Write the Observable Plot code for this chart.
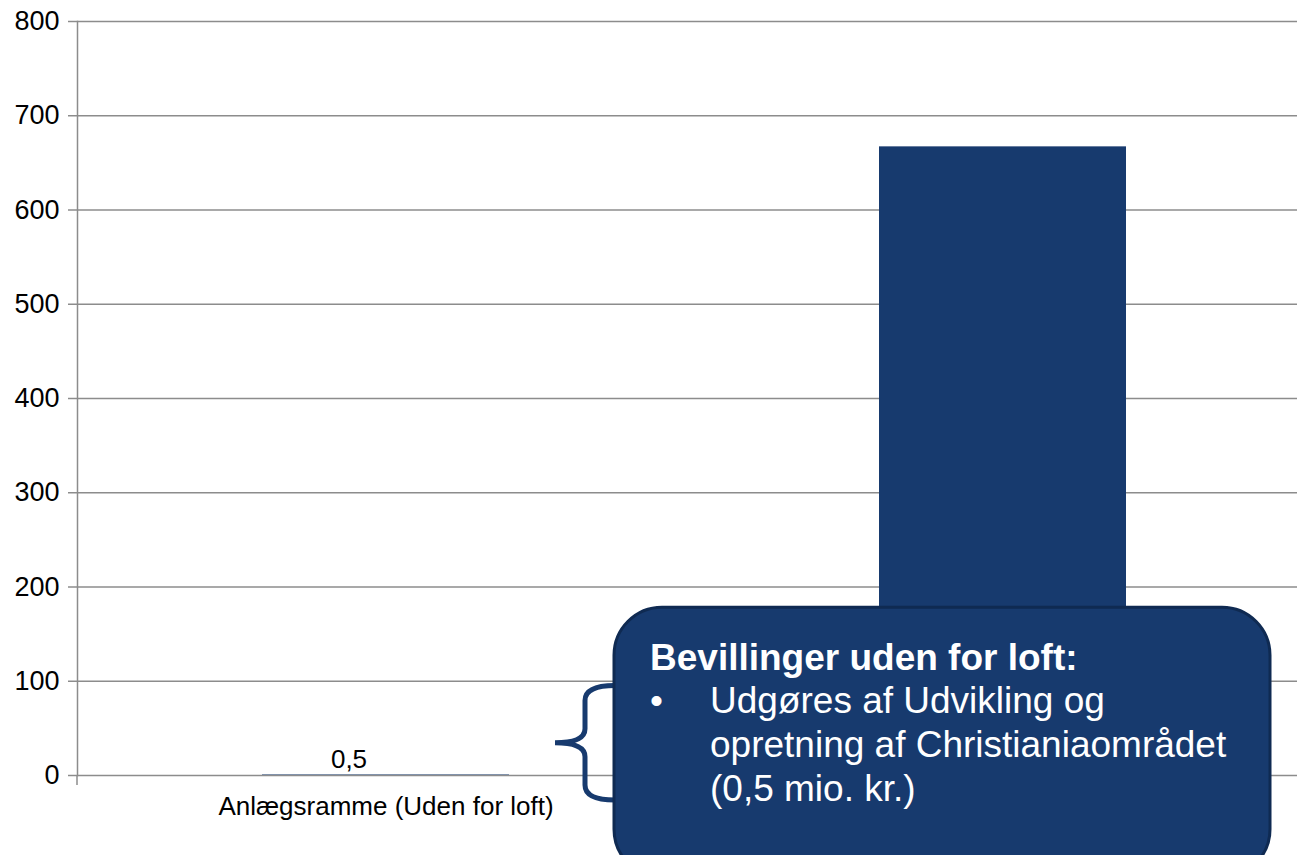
<!DOCTYPE html>
<html>
<head>
<meta charset="utf-8">
<script src="https://cdn.jsdelivr.net/npm/d3@7"></script>
<script src="https://cdn.jsdelivr.net/npm/@observablehq/plot@0.6"></script>
<style>
  html, body { margin: 0; padding: 0; background: #fff; overflow: hidden; }
  #chart svg { display: block; font-family: "Liberation Sans", Arial, sans-serif; }
</style>
</head>
<body>
<div id="chart"></div>
<script>
const categories = ["Anlægsramme (Uden for loft)", "Anlægsramme (Under loft)"];
const values = [0.5, 667];
const valueLabels = ["0,5", ""];
const visibleCategoryLabels = ["Anlægsramme (Uden for loft)"];
const yTicks = [0, 100, 200, 300, 400, 500, 600, 700, 800];
const calloutTitle = "Bevillinger uden for loft:";
const calloutLines = ["Udgøres af Udvikling og", "opretning af Christianiaområdet", "(0,5 mio. kr.)"];

const data = categories.map((c, i) => ({cat: c, value: values[i], label: valueLabels[i]}));

const navy = "#173a6e";
const grid = "#8c8c8c";

const plot = Plot.plot({
  width: 1297,
  height: 855,
  marginLeft: 77,
  marginRight: 0,
  marginTop: 21,
  marginBottom: 80,
  style: {fontFamily: "'Liberation Sans', Arial, sans-serif", fontSize: "26px", color: "#000", background: "#fff"},
  x: {type: "band", domain: categories, range: [77, 1311], paddingInner: 0.6, paddingOuter: 0.3, label: null},
  y: {domain: [0, 800], ticks: yTicks, label: null},
  marks: [
    Plot.gridY(yTicks, {stroke: grid, strokeOpacity: 1, strokeWidth: 1.5}),
    Plot.barY(data, {x: "cat", y: "value", fill: navy}),
    Plot.axisY(yTicks, {tickSize: 9, tickPadding: 9, stroke: grid, strokeWidth: 1.5, fontSize: 27, fill: "#000", label: null, tickFormat: d => String(d)}),
    Plot.axisX(visibleCategoryLabels, {tickSize: 0, tickPadding: 21, fontSize: 26, fill: "#000", label: null}),
    Plot.frame({anchor: "left", stroke: grid, strokeWidth: 1.5}),
    Plot.text(data.filter(d => d.label), {x: "cat", y: "value", text: "label", dy: -15, dx: -37, fontSize: 26, fill: "#000"})
  ]
});

document.getElementById("chart").appendChild(plot);

// Annotation: brace and callout box, positioned from the y scale
const svg = d3.select(plot);
const ys = plot.scale("y");
const yTop = ys.apply(95);     // brace top
const yBot = ys.apply(-26.5);  // brace bottom
const yMid = (yTop + yBot) / 2;
const bx = 585, bl = 555, br = 615;

// small category-boundary tick below the axis at the left edge
svg.append("line").attr("x1", 77).attr("x2", 77).attr("y1", ys.apply(0)).attr("y2", ys.apply(0) + 10)
  .attr("stroke", grid).attr("stroke-width", 1.5);

const ann = svg.append("g").attr("text-anchor", "start");
ann.append("path")
  .attr("d", `M${br},${yTop} Q${bx},${yTop} ${bx},${yTop + 15} L${bx},${yMid - 14} Q${bx},${yMid} ${bl},${yMid} Q${bx},${yMid} ${bx},${yMid + 14} L${bx},${yBot - 15} Q${bx},${yBot} ${br},${yBot}`)
  .attr("fill", "none").attr("stroke", navy).attr("stroke-width", 5).attr("stroke-linecap", "round");

const boxTop = ys.apply(178);
ann.append("rect")
  .attr("x", 614).attr("y", boxTop).attr("width", 656).attr("height", 270)
  .attr("rx", 48).attr("ry", 48)
  .attr("fill", navy).attr("stroke", "#0f2a52").attr("stroke-width", 3);

const addText = (x, y, t, bold) => ann.append("text")
  .attr("x", x).attr("y", y)
  .attr("text-anchor", "start")
  .attr("fill", "#fff").attr("font-size", 37)
  .attr("font-weight", bold ? "bold" : "normal")
  .attr("font-family", "'Liberation Sans', Arial, sans-serif")
  .text(t);

addText(650, boxTop + 63, calloutTitle, true);
addText(650, boxTop + 106, "•", false);
calloutLines.forEach((t, i) => addText(710, boxTop + 106 + i * 44, t, false));
</script>
</body>
</html>
